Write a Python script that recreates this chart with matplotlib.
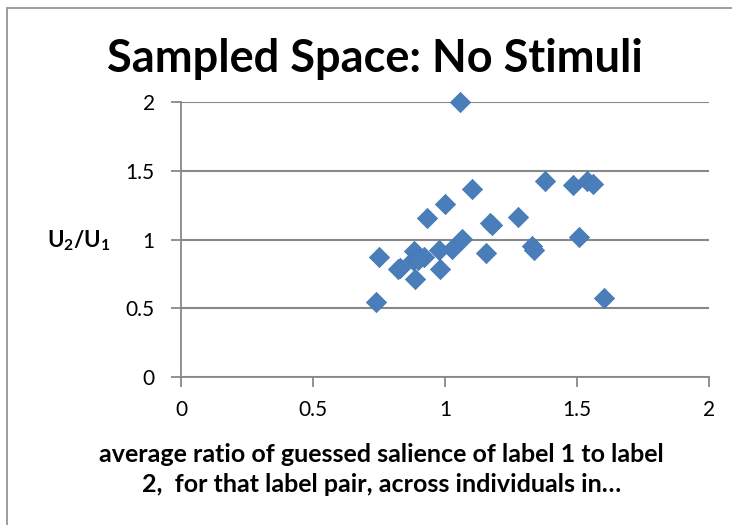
import matplotlib
matplotlib.use('Agg')
import matplotlib.pyplot as plt
from matplotlib.patches import Rectangle

plt.rcParams['font.family'] = ['Lato', 'DejaVu Sans']
plt.rcParams['mathtext.fontset'] = 'custom'
plt.rcParams['mathtext.rm'] = 'Lato'
plt.rcParams['mathtext.bf'] = 'Lato:bold'

# Average guessed salience ratio (label 1 / label 2) vs. utility ratio U2/U1
salience_ratio = [1.058, 1.101, 1.001, 0.932, 1.379, 1.484, 1.539, 1.562,
                  1.275, 1.170, 1.179, 1.066, 1.025, 0.977, 0.884, 0.920,
                  0.880, 0.830, 0.821, 0.751, 0.885, 0.982, 1.155, 1.330,
                  1.337, 1.508, 1.602, 0.737, 0.899]
utility_ratio = [2.000, 1.367, 1.260, 1.156, 1.425, 1.396, 1.428, 1.401,
                 1.161, 1.122, 1.105, 1.003, 0.932, 0.923, 0.918, 0.870,
                 0.850, 0.794, 0.785, 0.874, 0.709, 0.785, 0.899, 0.954,
                 0.923, 1.015, 0.573, 0.542, 0.850]

ticks = [0, 0.5, 1, 1.5, 2]
tick_labels = ['0', '0.5', '1', '1.5', '2']

fig = plt.figure(figsize=(7.32, 5.25), dpi=100)
ax = fig.add_axes([0.2473, 0.2825, 0.7213, 0.5226])

grid_col = '#888888'
ax.scatter(salience_ratio, utility_ratio, marker='D', s=105,
           color='#4a7ebb', edgecolors='#4679b5', linewidths=0.6,
           zorder=3, clip_on=False)

ax.set_xlim(0, 2)
ax.set_ylim(0, 2)
ax.set_xticks(ticks)
ax.set_xticklabels(tick_labels)
ax.set_yticks(ticks)
ax.set_yticklabels(tick_labels)
ax.grid(axis='y', color=grid_col, linewidth=1.5, zorder=0)
ax.set_axisbelow(True)

for side in ['top', 'right']:
    ax.spines[side].set_visible(False)
for side in ['left', 'bottom']:
    ax.spines[side].set_color(grid_col)
    ax.spines[side].set_linewidth(1.3)

ax.tick_params(axis='both', colors=grid_col, labelcolor='black',
               labelsize=15, length=7, width=1.3, direction='out')
ax.tick_params(axis='x', pad=10)
ax.tick_params(axis='y', pad=12)

fig.text(0.512, 0.887, 'Sampled Space: No Stimuli', ha='center',
         va='center', fontsize=32.5, fontweight='bold')
fig.text(0.521, 0.106,
         'average ratio of guessed salience of label 1 to label\n'
         '2,  for that label pair, across individuals in\u2026',
         ha='center', va='center', fontsize=18, fontweight='bold',
         linespacing=1.35)
fig.text(0.108, 0.542, r'$\mathbf{U_2/U_1}$', ha='center', va='center',
         fontsize=16)

# chart border
fig.patches.append(Rectangle((7 / 732, -0.1), 1.2, 1 - 8 / 525 + 0.1,
                             transform=fig.transFigure, fill=False,
                             edgecolor='#8c8c8c', linewidth=1.2))

fig.savefig('out.png', dpi=100)
